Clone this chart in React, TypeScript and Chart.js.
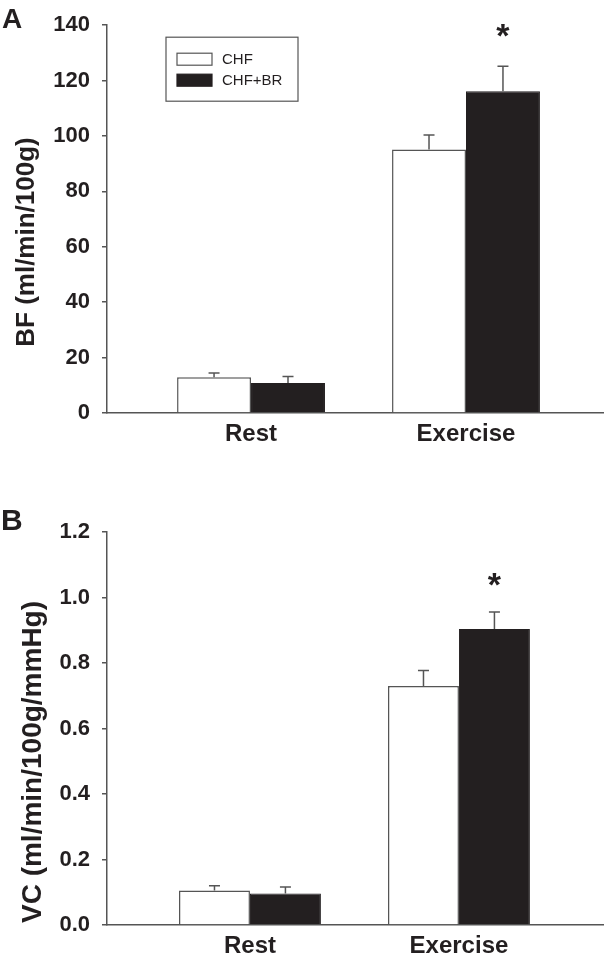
import React, { useEffect, useRef } from 'react';
import { Chart, registerables } from 'chart.js';

Chart.register(...registerables);

// ---------- data ----------
const categories = ['Rest', 'Exercise'];
const seriesNames = ['CHF', 'CHF+BR'];

const bfCHF = [12.9, 95.1];
const bfCHFErr = [1.5, 5.3];
const bfBR = [10.8, 116.2];
const bfBRErr = [2.4, 9.0];
const bfBRStar = [false, true];
const bfAxis = { min: 0, max: 140, step: 20, title: 'BF (ml/min/100g)' };

const vcCHF = [0.105, 0.73];
const vcCHFErr = [0.015, 0.047];
const vcBR = [0.096, 0.904];
const vcBRErr = [0.02, 0.052];
const vcBRStar = [false, true];
const vcAxis = { min: 0, max: 1.2, step: 0.2, title: 'VC (ml/min/100g/mmHg)' };

// ---------- styles ----------
const FONT = '"Liberation Sans", Arial, Helvetica, sans-serif';
const INK = '#231f20';
const AXIS = '#555555';

const errorBarPlugin = {
  id: 'errorBars',
  afterDatasetsDraw(chart: any, _args: any, opts: any) {
    const { ctx } = chart;
    const yScale = chart.scales.y;
    chart.data.datasets.forEach((ds: any, di: number) => {
      const meta = chart.getDatasetMeta(di);
      meta.data.forEach((bar: any, i: number) => {
        const v = ds.data[i].y;
        const e = ds.errors[i];
        const top = yScale.getPixelForValue(v + e);
        ctx.save();
        ctx.strokeStyle = AXIS;
        ctx.lineWidth = 1.5;
        ctx.beginPath();
        ctx.moveTo(bar.x, bar.y);
        ctx.lineTo(bar.x, top);
        ctx.moveTo(bar.x - 5.5, top);
        ctx.lineTo(bar.x + 5.5, top);
        ctx.stroke();
        if (ds.stars && ds.stars[i]) {
          ctx.fillStyle = INK;
          ctx.font = `bold ${opts.starSize}px ${FONT}`;
          ctx.textAlign = 'center';
          ctx.textBaseline = 'alphabetic';
          ctx.fillText('*', bar.x, top - opts.starGap);
        }
        ctx.restore();
      });
    });
  },
};

const axisTitlePlugin = {
  id: 'axisTitle',
  afterDraw(chart: any, _args: any, opts: any) {
    if (!opts || !opts.text) return;
    const { ctx } = chart;
    ctx.save();
    ctx.translate(opts.cx, opts.cy);
    ctx.rotate(-Math.PI / 2);
    ctx.fillStyle = INK;
    ctx.font = `bold ${opts.size}px ${FONT}`;
    ctx.textAlign = 'center';
    ctx.textBaseline = 'middle';
    ctx.fillText(opts.text, 0, 0);
    ctx.restore();
  },
};

const boxLegendPlugin = {
  id: 'boxLegend',
  afterDraw(chart: any, _args: any, opts: any) {
    if (!opts || !opts.show) return;
    const { ctx, chartArea } = chart;
    const x0 = chartArea.left + opts.dx;
    const y0 = chartArea.top + opts.dy;
    ctx.save();
    ctx.strokeStyle = AXIS;
    ctx.lineWidth = 1.2;
    ctx.strokeRect(x0, y0, opts.w, opts.h);
    chart.data.datasets.forEach((ds: any, i: number) => {
      const sy = y0 + 16 + i * 21;
      ctx.fillStyle = ds.backgroundColor;
      ctx.fillRect(x0 + 11, sy, 35, 12);
      ctx.strokeStyle = ds.borderColor;
      ctx.lineWidth = 1.2;
      ctx.strokeRect(x0 + 11, sy, 35, 12);
      ctx.fillStyle = INK;
      ctx.font = `15px ${FONT}`;
      ctx.textAlign = 'left';
      ctx.textBaseline = 'middle';
      ctx.fillText(ds.label, x0 + 56, sy + 6.5);
    });
    ctx.restore();
  },
};

function makeConfig(p: any) {
  return {
    type: 'bar',
    data: {
      datasets: [
        {
          label: seriesNames[0],
          data: categories.map((_, i) => ({ x: i + 1, y: p.a[i] })),
          errors: p.aErr,
          backgroundColor: '#ffffff',
          borderColor: AXIS,
          borderWidth: 1.5,
        },
        {
          label: seriesNames[1],
          data: categories.map((_, i) => ({ x: i + 1, y: p.b[i] })),
          errors: p.bErr,
          stars: p.bStar,
          backgroundColor: INK,
          borderColor: INK,
          borderWidth: 1,
        },
      ],
    },
    options: {
      animation: false,
      responsive: false,
      maintainAspectRatio: false,
      layout: { padding: { top: p.padTop, left: 0, right: 0, bottom: 0 } },
      datasets: { bar: { categoryPercentage: p.catPct, barPercentage: 1 } },
      plugins: {
        legend: { display: false },
        tooltip: { enabled: false },
        errorBars: { starSize: p.starSize, starGap: p.starGap },
        boxLegend: { show: p.legend, dx: 59, dy: 12, w: 132, h: 64 },
        axisTitle: { text: p.axis.title, cx: p.titleX, cy: p.titleY, size: p.titleSize },
      },
      scales: {
        x: {
          type: 'linear',
          min: p.xMin,
          max: p.xMax,
          offset: false,
          afterBuildTicks: (ax: any) => {
            ax.ticks = categories.map((_, i) => ({ value: i + 1 }));
          },
          afterFit: (ax: any) => {
            ax.height = p.xAxisH;
          },
          grid: { display: false, drawTicks: false, offset: false },
          border: { display: true, color: AXIS, width: 1.5 },
          ticks: {
            callback: (v: number) => categories[v - 1] ?? '',
            font: { size: 24, weight: 'bold', family: FONT },
            color: INK,
            padding: 7,
            maxRotation: 0,
            autoSkip: false,
          },
        },
        y: {
          min: p.axis.min,
          max: p.axis.max,
          afterFit: (ax: any) => {
            ax.width = 107;
          },
          ticks: {
            stepSize: p.axis.step,
            callback: p.tickFmt,
            font: { size: 22, weight: 'bold', family: FONT },
            color: INK,
            padding: 12,
          },
          grid: {
            display: true,
            drawOnChartArea: false,
            drawTicks: true,
            tickLength: 5,
            color: AXIS,
            lineWidth: 1.5,
          },
          border: { display: true, color: AXIS, width: 1.5 },
          title: { display: false },
        },
      },
    },
    plugins: [errorBarPlugin, boxLegendPlugin, axisTitlePlugin],
  };
}

function BarPanel(props: { config: any; width: number; height: number; top: number }) {
  const ref = useRef<HTMLCanvasElement | null>(null);
  useEffect(() => {
    if (!ref.current) return;
    const chart = new Chart(ref.current, props.config);
    return () => chart.destroy();
  }, []);
  return (
    <canvas
      ref={ref}
      width={props.width}
      height={props.height}
      style={{ position: 'absolute', left: 0, top: props.top, display: 'block' }}
    />
  );
}

const topConfig = makeConfig({
  a: bfCHF,
  aErr: bfCHFErr,
  b: bfBR,
  bErr: bfBRErr,
  bStar: bfBRStar,
  axis: bfAxis,
  tickFmt: (v: number) => String(v),
  padTop: 21,
  xAxisH: 57,
  xMin: 0.33,
  xMax: 2.642,
  catPct: 0.688,
  titleX: 27,
  titleY: 242,
  titleSize: 26,
  legend: true,
  starSize: 34,
  starGap: 19,
});

const bottomConfig = makeConfig({
  a: vcCHF,
  aErr: vcCHFErr,
  b: vcBR,
  bErr: vcBRErr,
  bStar: vcBRStar,
  axis: vcAxis,
  tickFmt: (v: number) => Number(v).toFixed(1),
  padTop: 52,
  xAxisH: 43,
  xMin: 0.316,
  xMax: 2.694,
  catPct: 0.679,
  titleX: 33,
  titleY: 282,
  titleSize: 28,
  legend: false,
  starSize: 34,
  starGap: 16,
});

const panelLabel: React.CSSProperties = {
  position: 'absolute',
  fontFamily: FONT,
  fontWeight: 'bold',
  color: INK,
  lineHeight: 1,
  margin: 0,
};

export default function App() {
  return (
    <div style={{ position: 'absolute', left: 0, top: 0, width: 604, height: 968, background: '#fff' }}>
      <BarPanel config={topConfig} width={604} height={470} top={0} />
      <BarPanel config={bottomConfig} width={604} height={488} top={480} />
      <div style={{ ...panelLabel, left: 2, top: 5, fontSize: 28 }}>A</div>
      <div style={{ ...panelLabel, left: 1, top: 505, fontSize: 30 }}>B</div>
    </div>
  );
}
